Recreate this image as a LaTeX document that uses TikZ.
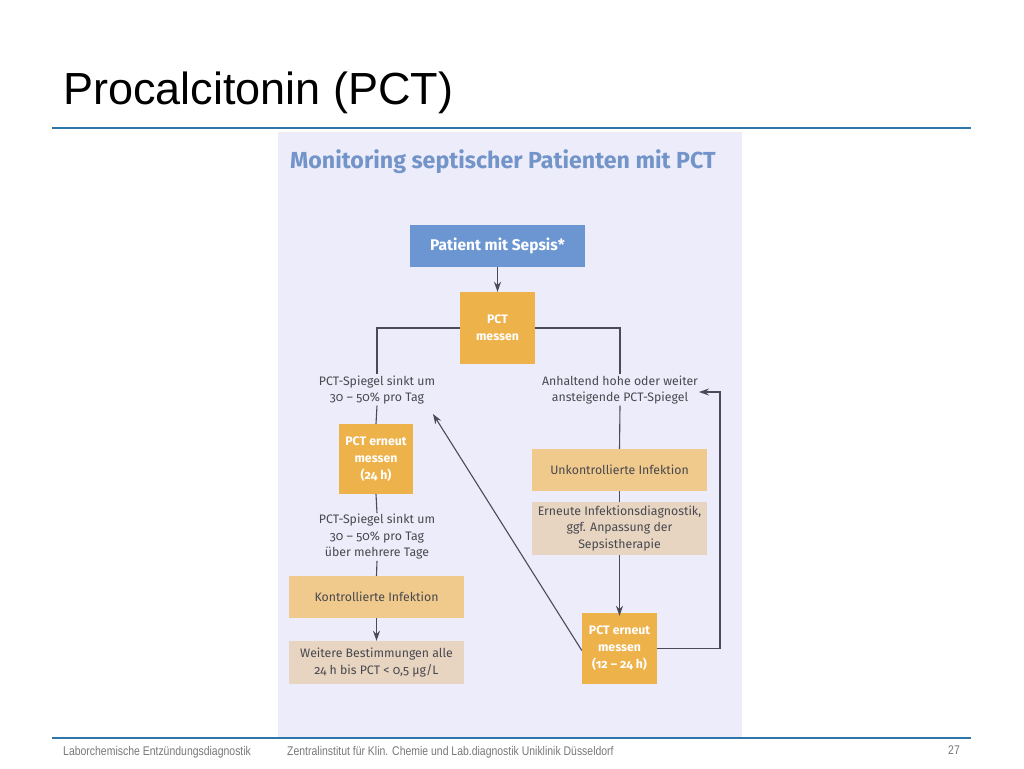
\documentclass[tikz,border=0pt]{standalone}
\usepackage{fontspec}
\setmainfont{Liberation Sans}
\newfontfamily\narrowfont[FakeStretch=0.83]{Liberation Sans}
\newfontfamily\dfont[Numbers=OldStyle]{Fira Sans}
\usetikzlibrary{arrows.meta}
\definecolor{panelbg}{RGB}{236,236,250}
\definecolor{boxblue}{RGB}{107,150,210}
\definecolor{boxorange}{RGB}{238,178,75}
\definecolor{boxlight}{RGB}{240,201,140}
\definecolor{boxbeige}{RGB}{231,213,194}
\definecolor{linegray}{RGB}{75,75,88}
\definecolor{txtdark}{RGB}{72,72,78}
\definecolor{titleblue}{RGB}{115,148,200}
\definecolor{ruleblue}{RGB}{46,117,170}
\definecolor{footgray}{RGB}{120,120,120}
\tikzset{
  basebox/.style={draw=none, inner sep=0pt, align=center},
  bluebox/.style={basebox, fill=boxblue, text=white, font=\dfont\bfseries\fontsize{15.5}{18}\selectfont},
  pctbox/.style={basebox, fill=boxorange, text=white, font=\dfont\bfseries\fontsize{12.3}{17}\selectfont, minimum width=75pt},
  lightbox/.style={basebox, fill=boxlight, text=txtdark, font=\dfont\fontsize{12.3}{16.5}\selectfont, minimum width=175pt},
  beigebox/.style={basebox, fill=boxbeige, text=txtdark, font=\dfont\fontsize{12.3}{16.5}\selectfont, minimum width=175pt},
  lbl/.style={align=center, inner sep=1pt, text=txtdark, font=\dfont\fontsize{12.3}{16.5}\selectfont},
  conn/.style={draw=linegray, line width=1.1pt},
  arr/.style={conn, -{Stealth[length=10pt,width=7pt]}},
  rule/.style={draw=ruleblue, line width=2pt},
  foot/.style={anchor=west, inner sep=0pt, text=footgray, font=\narrowfont\fontsize{12.6}{14}\selectfont}
}
\begin{document}
\begin{tikzpicture}[x=1pt,y=-1pt]
\useasboundingbox (0,0) rectangle (1024,768);
\fill[white] (0,0) rectangle (1024,768);
% page title and rules
\node[anchor=base west, inner sep=0pt, font=\fontsize{45}{50}\selectfont] (title) at (63,104) {Procalcitonin (PCT)};
\coordinate (r1a) at (52,128); \coordinate (r1b) at (971,128);
\draw[rule] (r1a) -- (r1b);
% panel
\fill[panelbg] (278,132) rectangle (742,738);
\coordinate (r2a) at (52,738); \coordinate (r2b) at (971,738);
\draw[rule] (r2a) -- (r2b);
% footer
\node[foot] (f1) at (63,752) {Laborchemische Entzündungsdiagnostik};
\node[foot] (f2) at (287,752) {Zentralinstitut für Klin. Chemie und Lab.diagnostik Uniklinik Düsseldorf};
\node[foot] (f3) at (948,750) {27};
% inner title
\node[anchor=base west, inner sep=0pt, text=titleblue, font=\dfont\bfseries\fontsize{23.2}{27}\selectfont] (itit) at (290,168) {Monitoring septischer Patienten mit PCT};
% boxes
\node[bluebox, minimum width=175pt, minimum height=42pt] (sepsis) at (497.5,246) {Patient mit Sepsis*};
\node[pctbox, minimum height=72pt] (pct1) at (497.5,328) {PCT\\messen};
\node[lbl] (labL1) at (377,390) {PCT-Spiegel sinkt um\\30 – 50\% pro Tag};
\node[lbl] (labR1) at (620,390) {Anhaltend hohe oder weiter\\ansteigende PCT-Spiegel};
\node[pctbox, minimum height=70pt, minimum width=74pt] (pct2) at (376,459) {PCT erneut\\messen\\(24 h)};
\node[lbl] (labL2) at (377,537) {PCT-Spiegel sinkt um\\30 – 50\% pro Tag\\über mehrere Tage};
\node[lightbox, minimum height=42pt] (kontr) at (376.5,597) {Kontrollierte Infektion};
\node[beigebox, minimum height=43pt] (weitere) at (376.5,662.5) {Weitere Bestimmungen alle\\24 h bis PCT < 0,5 µg/L};
\node[lightbox, minimum height=42pt] (unkontr) at (619.5,470) {Unkontrollierte Infektion};
\node[beigebox, minimum height=53pt] (erneute) at (619.5,528.5) {Erneute Infektionsdiagnostik,\\ggf. Anpassung der\\Sepsistherapie};
\node[pctbox, minimum height=71pt] (pct3) at (619.5,648.5) {PCT erneut\\messen\\(12 – 24 h)};
% connectors
\draw[arr] (sepsis.south) -- (pct1.north);
\draw[conn] (pct1.west) -| (labL1.north);
\draw[conn] (pct1.east) -| (labR1.north);
\draw[conn] (labL1.south) -- (pct2.north);
\draw[conn] (pct2.south) -- (labL2.north);
\draw[conn] (labL2.south) -- (kontr.north);
\draw[arr] (kontr.south) -- (weitere.north);
\draw[conn] (labR1.south) -- (unkontr.north);
\draw[conn] (unkontr.south) -- (erneute.north);
\draw[arr] (erneute.south) -- ([yshift=-3pt]pct3.north);
\coordinate (loopc) at (720,392);
\coordinate (looptip) at (699,392);
\draw[arr] (pct3.east) -| (loopc) -- (looptip);
\coordinate (diagtip) at (433,414);
\draw[arr] ([yshift=-2pt]pct3.west) -- (diagtip);
\end{tikzpicture}
\end{document}
